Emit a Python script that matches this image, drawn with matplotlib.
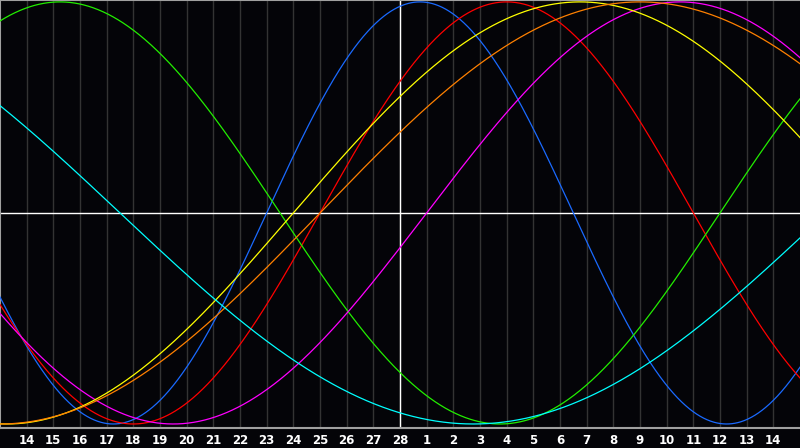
import numpy as np
import matplotlib
matplotlib.use("Agg")
import matplotlib.pyplot as plt

# biorhythm cycles (days) and line colours
cycle_names = ["physical", "emotional", "intellectual", "intuitive",
               "aesthetic", "awareness", "spiritual"]
cycle_periods = [23, 28, 33, 38, 43, 48, 53]
cycle_colors = ["#1a6aff", "#ff0000", "#22ee00", "#ff00ff",
                "#ffff00", "#ff8000", "#00ffff"]

# days since birth on the centre day (28th)
days_alive = 34275

# day labels from -14 to +14 around the centre day
day_offsets = list(range(-14, 15))
day_labels = [str(d) for d in range(14, 29)] + [str(d) for d in range(1, 15)]

fig = plt.figure(figsize=(8, 4.48), dpi=100)
fig.patch.set_facecolor("#040408")
ax = fig.add_axes([0, 20 / 448, 1, 428 / 448])
ax.set_facecolor("#040408")

for off in day_offsets:
    ax.axvline(off, color="#333333", lw=1, zorder=1)

ax.axhline(0, color="white", lw=1, zorder=2)
ax.axvline(0, color="white", lw=1, zorder=2)

t = np.linspace(-15, 15, 1600)
for name, per, col in zip(cycle_names, cycle_periods, cycle_colors):
    ax.plot(t, np.sin(2 * np.pi * (days_alive + t) / per), color=col,
            lw=0.9, zorder=3, label=name)

ax.set_xlim(-15, 15)
ax.set_ylim(-1.019, 1.009)

ax.spines["right"].set_visible(False)
for s in ["left", "top", "bottom"]:
    ax.spines[s].set_color("#a0a0a0")
    ax.spines[s].set_linewidth(1.5)

ax.set_yticks([])
ax.set_xticks(day_offsets)
ax.set_xticklabels(day_labels, color="white", fontsize=8.5, fontweight="bold")
ax.tick_params(axis="x", length=0, pad=4.5)

fig.savefig("out.png", dpi=100, facecolor=fig.get_facecolor())
